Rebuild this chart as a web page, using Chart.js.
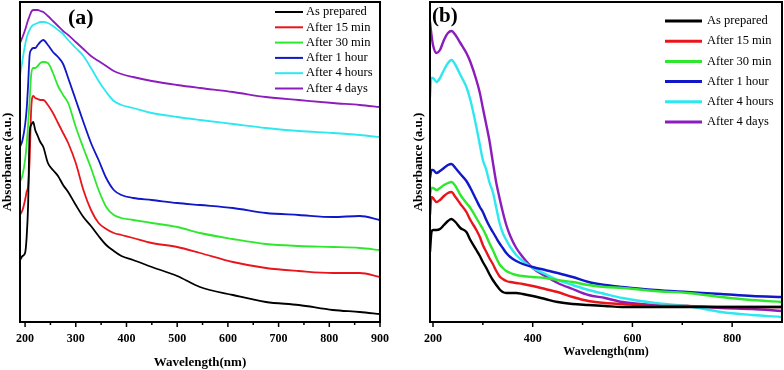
<!DOCTYPE html>
<html>
<head>
<meta charset="utf-8">
<script src="https://cdn.jsdelivr.net/npm/chart.js@4.4.0/dist/chart.umd.min.js"></script>
<style>
  html, body { margin: 0; padding: 0; background: #fff; }
  #wrap { position: relative; width: 784px; height: 370px; overflow: hidden; }
  .panel { position: absolute; top: 0; height: 370px; }
  #boxA { left: 0; width: 390px; }
  #boxB { left: 410px; width: 374px; }
</style>
</head>
<body>
<div id="wrap">
  <div class="panel" id="boxA"><canvas id="chartA" width="390" height="370"></canvas></div>
  <div class="panel" id="boxB"><canvas id="chartB" width="374" height="370"></canvas></div>
</div>
<script>
// series names and colours (same for both panels)
const seriesNames = ['As prepared', 'After 15 min', 'After 30 min', 'After 1 hour', 'After 4 hours', 'After 4 days'];
const seriesColors = ['#000000', '#e8161c', '#2ee82e', '#1018c8', '#2ee8f0', '#8c1cbc'];

// x tick labels
const ticksA = [200, 300, 400, 500, 600, 700, 800, 900];
const ticksB = [200, 400, 600, 800];

// panel (a): wavelength grid (nm) and absorbance (a.u.)
const nmA = [190, 195, 200, 203, 206, 209, 212, 216, 220, 225, 230, 236, 245, 255, 265, 275, 285, 300, 315, 330, 345, 360, 375, 390, 413, 450, 500, 545, 610, 675, 740, 807, 860, 900];
const aPrepared = [0.62, 0.66, 0.69, 0.84, 1.17, 1.89, 1.97, 2.00, 1.92, 1.86, 1.80, 1.75, 1.59, 1.52, 1.46, 1.37, 1.30, 1.17, 1.05, 0.96, 0.86, 0.77, 0.71, 0.66, 0.62, 0.55, 0.46, 0.35, 0.27, 0.20, 0.17, 0.12, 0.10, 0.08];
const a15min = [1.07, 1.12, 1.22, 1.30, 1.36, 1.62, 2.12, 2.26, 2.24, 2.23, 2.22, 2.22, 2.17, 2.09, 1.99, 1.89, 1.79, 1.59, 1.32, 1.12, 0.99, 0.93, 0.89, 0.87, 0.84, 0.79, 0.75, 0.69, 0.60, 0.54, 0.51, 0.49, 0.49, 0.45];
const a30min = [1.40, 1.47, 1.62, 1.77, 1.97, 2.22, 2.47, 2.54, 2.54, 2.56, 2.59, 2.60, 2.59, 2.49, 2.36, 2.27, 2.19, 1.95, 1.74, 1.54, 1.32, 1.15, 1.07, 1.04, 1.02, 0.99, 0.95, 0.89, 0.83, 0.78, 0.76, 0.75, 0.74, 0.72];
const a1hour = [1.75, 1.82, 1.97, 2.12, 2.37, 2.67, 2.72, 2.74, 2.74, 2.77, 2.80, 2.82, 2.77, 2.70, 2.65, 2.58, 2.44, 2.22, 2.00, 1.79, 1.62, 1.44, 1.32, 1.27, 1.24, 1.22, 1.19, 1.17, 1.14, 1.09, 1.07, 1.05, 1.06, 1.02];
const a4hours = [2.46, 2.62, 2.77, 2.84, 2.89, 2.92, 2.95, 2.97, 2.98, 2.99, 3.00, 3.00, 2.99, 2.96, 2.92, 2.88, 2.82, 2.74, 2.66, 2.54, 2.41, 2.30, 2.21, 2.17, 2.14, 2.09, 2.05, 2.02, 1.98, 1.94, 1.91, 1.89, 1.87, 1.85];
const a4days = [2.79, 2.85, 2.92, 2.97, 3.02, 3.06, 3.10, 3.12, 3.12, 3.12, 3.11, 3.10, 3.06, 3.01, 2.96, 2.91, 2.87, 2.80, 2.73, 2.66, 2.61, 2.56, 2.51, 2.48, 2.45, 2.41, 2.37, 2.34, 2.30, 2.25, 2.22, 2.19, 2.17, 2.15];

// panel (b)
const nmB = [194, 197, 200, 207, 214, 222, 230, 237, 245, 255, 267, 275, 287, 294, 300, 307, 313, 320, 327, 333, 340, 347, 355, 367, 380, 400, 425, 450, 480, 512, 545, 580, 645, 710, 778, 840, 900];
const bPrepared = [0.70, 0.90, 0.92, 0.92, 0.93, 0.97, 1.01, 1.03, 1.00, 0.94, 0.90, 0.82, 0.72, 0.66, 0.60, 0.54, 0.48, 0.42, 0.37, 0.33, 0.30, 0.29, 0.29, 0.29, 0.28, 0.26, 0.23, 0.20, 0.18, 0.17, 0.16, 0.15, 0.15, 0.15, 0.15, 0.15, 0.15];
const b15min = [1.07, 1.25, 1.24, 1.20, 1.22, 1.26, 1.29, 1.30, 1.25, 1.18, 1.10, 1.02, 0.92, 0.85, 0.77, 0.70, 0.64, 0.58, 0.51, 0.46, 0.43, 0.41, 0.40, 0.39, 0.38, 0.36, 0.33, 0.30, 0.25, 0.21, 0.19, 0.18, 0.16, 0.16, 0.15, 0.15, 0.15];
const b30min = [1.27, 1.34, 1.34, 1.32, 1.34, 1.37, 1.39, 1.40, 1.36, 1.27, 1.19, 1.14, 1.04, 0.98, 0.93, 0.86, 0.79, 0.72, 0.64, 0.58, 0.54, 0.51, 0.49, 0.47, 0.46, 0.45, 0.44, 0.42, 0.40, 0.37, 0.35, 0.34, 0.31, 0.29, 0.25, 0.22, 0.20];
const b1hour = [1.44, 1.52, 1.52, 1.49, 1.51, 1.54, 1.57, 1.58, 1.54, 1.48, 1.41, 1.34, 1.22, 1.15, 1.10, 1.02, 0.96, 0.90, 0.84, 0.79, 0.74, 0.69, 0.65, 0.61, 0.58, 0.55, 0.52, 0.49, 0.45, 0.40, 0.37, 0.35, 0.32, 0.30, 0.28, 0.26, 0.25];
const b4hours = [2.25, 2.44, 2.44, 2.40, 2.44, 2.52, 2.59, 2.62, 2.57, 2.47, 2.35, 2.22, 1.95, 1.77, 1.62, 1.52, 1.40, 1.30, 1.14, 1.00, 0.89, 0.82, 0.75, 0.67, 0.61, 0.54, 0.48, 0.42, 0.37, 0.32, 0.28, 0.24, 0.19, 0.16, 0.10, 0.07, 0.05];
const b4days = [3.00, 2.87, 2.77, 2.69, 2.72, 2.82, 2.89, 2.91, 2.87, 2.79, 2.69, 2.60, 2.42, 2.29, 2.14, 1.97, 1.82, 1.60, 1.39, 1.25, 1.10, 0.97, 0.86, 0.74, 0.65, 0.54, 0.46, 0.39, 0.33, 0.27, 0.24, 0.20, 0.17, 0.16, 0.14, 0.13, 0.11];

const serif = 'Liberation Serif, Times New Roman, serif';

function makeDatasets(nm, list, width) {
  return list.map((vals, i) => ({
    label: seriesNames[i],
    data: vals.map((v, k) => ({ x: nm[k], y: v })),
    borderColor: seriesColors[i],
    borderWidth: width,
    pointRadius: 0,
    cubicInterpolationMode: 'monotone',
    fill: false
  }));
}

// box around the plot + outward ticks (major and minor)
const frame = {
  id: 'frame',
  afterDraw(chart, args, o) {
    const { ctx, chartArea: a } = chart;
    const x = chart.scales.x;
    ctx.save();
    ctx.strokeStyle = '#000';
    ctx.lineWidth = 2;
    ctx.strokeRect(a.left, a.top, a.right - a.left, a.bottom - a.top);
    ctx.lineWidth = 1.5;
    const vals = x.ticks.map(t => t.value);
    const step = vals[1] - vals[0];
    ctx.beginPath();
    vals.forEach(v => {
      const px = x.getPixelForValue(v);
      ctx.moveTo(px, a.bottom); ctx.lineTo(px, a.bottom + o.major);
      const m = v + step / 2;
      if (m < x.max) {
        const pm = x.getPixelForValue(m);
        ctx.moveTo(pm, a.bottom); ctx.lineTo(pm, a.bottom + o.minor);
      }
    });
    ctx.stroke();
    ctx.restore();
  }
};

// legend with line samples and panel tag
const sideLegend = {
  id: 'sideLegend',
  afterDraw(chart, args, o) {
    const ctx = chart.ctx;
    ctx.save();
    ctx.font = o.font;
    ctx.textBaseline = 'middle';
    chart.data.datasets.forEach((ds, i) => {
      const y = o.y + i * o.gap;
      ctx.strokeStyle = ds.borderColor;
      ctx.lineWidth = o.lineWidth;
      ctx.beginPath();
      ctx.moveTo(o.x, y);
      ctx.lineTo(o.x + o.len, y);
      ctx.stroke();
      ctx.fillStyle = '#000';
      ctx.fillText(ds.label, o.x + o.len + o.textGap, y);
    });
    ctx.font = o.tagFont;
    ctx.fillText(o.tag, o.tagX, o.tagY);
    ctx.restore();
  }
};

function makeChart(id, nm, list, tickVals, cfg) {
  return new Chart(document.getElementById(id), {
    type: 'line',
    data: { datasets: makeDatasets(nm, list, cfg.lineWidth) },
    options: {
      responsive: false,
      animation: false,
      layout: { padding: { top: 2, right: cfg.padRight, left: 0, bottom: 0 } },
      plugins: {
        legend: { display: false },
        tooltip: { enabled: false },
        frame: { major: 5, minor: 3 },
        sideLegend: cfg.legend
      },
      scales: {
        x: {
          type: 'linear',
          min: cfg.xMin,
          max: 900,
          afterBuildTicks(s) { s.ticks = tickVals.map(v => ({ value: v })); },
          grid: { display: false, drawTicks: true, tickLength: 6 },
          border: { display: false },
          ticks: {
            autoSkip: false,
            maxRotation: 0,
            padding: 4,
            color: '#000',
            font: { family: serif, size: 12, weight: 'bold' }
          },
          title: {
            display: true,
            text: 'Wavelength(nm)',
            color: '#000',
            font: { family: serif, size: cfg.xTitleSize, weight: 'bold' },
            padding: { top: 0, bottom: cfg.xTitlePad }
          },
          afterFit(s) { s.height = 48; s.paddingLeft = 0; s.paddingRight = 0; }
        },
        y: {
          min: 0,
          max: 3.2,
          grid: { display: false, drawTicks: false },
          border: { display: false },
          ticks: { display: false },
          title: {
            display: true,
            text: 'Absorbance (a.u.)',
            color: '#000',
            font: { family: serif, size: 13, weight: 'bold' },
            padding: { top: cfg.yTitlePad, bottom: 0 }
          },
          afterFit(s) { s.width = 20; s.paddingTop = 0; s.paddingBottom = 0; }
        }
      }
    },
    plugins: [frame, sideLegend]
  });
}

makeChart('chartA', nmA, [aPrepared, a15min, a30min, a1hour, a4hours, a4days], ticksA, {
  lineWidth: 1.8,
  padRight: 10,
  xMin: 190,
  xTitleSize: 13,
  xTitlePad: 0,
  yTitlePad: 0,
  legend: {
    x: 275, len: 28, textGap: 3, y: 12, gap: 15.3, lineWidth: 2,
    font: '12.5px ' + serif,
    tag: '(a)', tagX: 68, tagY: 18, tagFont: 'bold 22px ' + serif
  }
});

makeChart('chartB', nmB, [bPrepared, b15min, b30min, b1hour, b4hours, b4days], ticksB, {
  lineWidth: 2.4,
  padRight: 2,
  xMin: 194,
  xTitleSize: 12,
  xTitlePad: 11,
  yTitlePad: 1,
  legend: {
    x: 255, len: 37, textGap: 5, y: 21, gap: 20.2, lineWidth: 3,
    font: '12.5px ' + serif,
    tag: '(b)', tagX: 22, tagY: 17, tagFont: 'bold 21px ' + serif
  }
});
</script>
</body>
</html>
